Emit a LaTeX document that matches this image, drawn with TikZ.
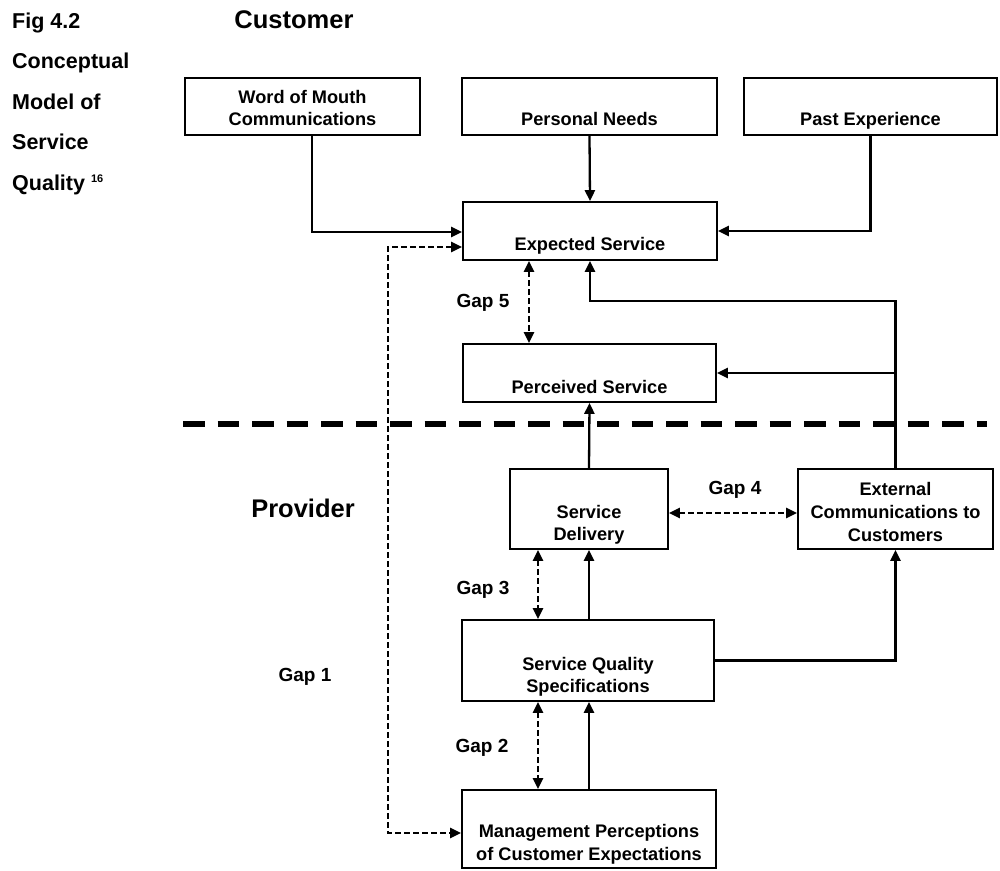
\documentclass[tikz,border=0pt]{standalone}
\usepackage{fontspec}
\setmainfont{Liberation Sans}
\usetikzlibrary{arrows.meta,calc}
\begin{document}
\begin{tikzpicture}[x=1pt,y=-1pt,
  box/.style={draw,line width=1.7pt,inner sep=0pt},
  txt/.style={anchor=base,font=\fontsize{18.2}{22}\selectfont\bfseries,inner sep=0pt},
  gaptxt/.style={anchor=base,font=\fontsize{19}{22}\selectfont\bfseries,inner sep=0pt},
  head/.style={anchor=base,font=\fontsize{25.5}{28}\selectfont\bfseries,inner sep=0pt},
  side/.style={anchor=base west,font=\fontsize{21.5}{27}\selectfont\bfseries,inner sep=0pt},
  arr/.style={line width=2.3pt,-{Triangle[length=11pt,width=10pt]}},
  dasharr/.style={line width=2.3pt,dash pattern=on 5.5pt off 3.5pt,{Triangle[length=11pt,width=10pt]}-{Triangle[length=11pt,width=10pt]}},
  divider/.style={line width=6.5pt,dash pattern=on 21.7pt off 12.8pt}
]
\useasboundingbox (0,0) rectangle (1000,870);

% side title
\node[side] (t1) at (12,28) {Fig 4.2};
\node[side] (t2) at (12,68.5) {Conceptual};
\node[side] (t3) at (12,109) {Model of};
\node[side] (t4) at (12,149.5) {Service};
\node[side] (t5) at (12,190) {Quality \raisebox{8pt}{\fontsize{11}{12}\selectfont 16}};

\node[head] (cust) at (294,28) {Customer};
\node[head] (prov) at (303,517) {Provider};

% boxes
\node[box,minimum width=235pt,minimum height=57pt] (wom) at (302.5,106.5) {};
\node[box,minimum width=255pt,minimum height=57pt] (pn) at (589.5,106.5) {};
\node[box,minimum width=253pt,minimum height=57pt] (pe) at (870.5,106.5) {};
\node[box,minimum width=254pt,minimum height=58pt] (exp) at (590,231) {};
\node[box,minimum width=253pt,minimum height=58pt] (perc) at (589.5,373) {};
\node[box,minimum width=158pt,minimum height=80pt] (sd) at (589,509) {};
\node[box,minimum width=195pt,minimum height=80pt] (ext) at (895.5,509) {};
\node[box,minimum width=252pt,minimum height=81pt] (sq) at (588,660.5) {};
\node[box,minimum width=254pt,minimum height=78pt] (mgmt) at (589,829) {};

% box texts
\node[txt] (womt1) at (302.5,103) {Word of Mouth};
\node[txt] (womt2) at (302.5,125) {Communications};
\node[txt] (pnt) at (589.5,125) {Personal Needs};
\node[txt] (pet) at (870.5,125) {Past Experience};
\node[txt] (expt) at (590,250) {Expected Service};
\node[txt] (perct) at (589.5,393) {Perceived Service};
\node[txt] (sdt1) at (589,518) {Service};
\node[txt] (sdt2) at (589,540) {Delivery};
\node[txt] (extt1) at (895.5,495) {External};
\node[txt] (extt2) at (895.5,518) {Communications to};
\node[txt] (extt3) at (895.5,541) {Customers};
\node[txt] (sqt1) at (588,670) {Service Quality};
\node[txt] (sqt2) at (588,692) {Specifications};
\node[txt] (mgt1) at (589,837) {Management Perceptions};
\node[txt] (mgt2) at (589,860) {of Customer Expectations};

% gap labels
\node[gaptxt] (gap5) at (483,307) {Gap 5};
\node[gaptxt] (gap4) at (735,494) {Gap 4};
\node[gaptxt] (gap3) at (483,594) {Gap 3};
\node[gaptxt] (gap2) at (482,752) {Gap 2};
\node[gaptxt] (gap1) at (305,681) {Gap 1};

% divider
\coordinate (dl) at (183,424);
\coordinate (dr) at (987,424);
\draw[divider] (dl) -- (dr);

% solid connectors
\draw[arr] ([xshift=9.5pt]wom.south) |- ([yshift=-1pt]exp.west);
\draw[arr] (pn.south) -- (exp.north);
\draw[arr] (pe.south) |- (exp.east);
\coordinate (top) at ([yshift=167pt]ext.north);
\draw[arr] (ext.north) -- (top) -| (exp.south);
\draw[arr] (ext.north |- perc.east) -- (perc.east);
\draw[arr] (sd.north) -- (perc.south);
\draw[arr] (sq.east) -| (ext.south);
\draw[arr] ([xshift=1pt]sq.north) -- (sd.south);
\draw[arr] (mgmt.north) -- ([xshift=1pt]sq.south);

% dashed gap connectors
\coordinate (g5) at (529,0);
\coordinate (g3) at (538,0);
\coordinate (g1) at (388,0);
\draw[dasharr] (g5 |- exp.south) -- (g5 |- perc.north);
\draw[dasharr] ([yshift=-4pt]sd.east) -- ([yshift=-4pt]ext.west);
\draw[dasharr] (g3 |- sd.south) -- (g3 |- sq.north);
\draw[dasharr] (g3 |- sq.south) -- (g3 |- mgmt.north);
\coordinate (e1) at ([yshift=-16pt]exp.west);
\coordinate (m1) at ([yshift=-4pt]mgmt.west);
\draw[dasharr] (e1) -- (e1 -| g1) -- (m1 -| g1) -- (m1);
\end{tikzpicture}
\end{document}
